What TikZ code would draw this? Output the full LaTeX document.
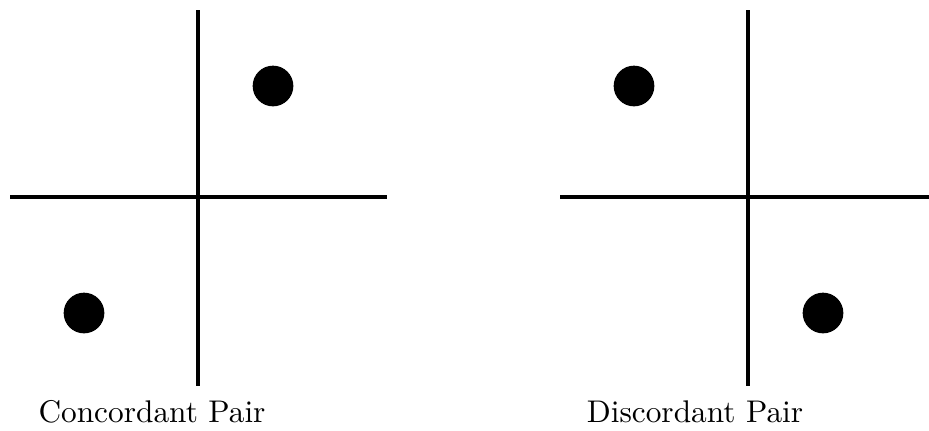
\documentclass[tikz,border=0pt]{standalone}
\usepackage{tikz}

\begin{document}
\begin{tikzpicture}[x=0.3415pt,y=-0.3415pt]
  \tikzset{
    axisline/.style={line width=1.6pt},
    pairdot/.style={circle,fill=black,inner sep=0pt,minimum size=13.9pt},
    pairlabel/.style={font=\fontsize{10.7}{13}\selectfont}
  }
  \useasboundingbox (0,0) rectangle (929,430);
  % concordant
  \draw[axisline] (198,10) -- (198,386);
  \draw[axisline] (10,197) -- (387,197);
  \node[pairdot] (cupper) at (273,86) {};
  \node[pairdot] (clower) at (84,313) {};
  \node[pairlabel] (clabel) at (152,412) {Concordant Pair};
  % discordant
  \draw[axisline] (748,10) -- (748,386);
  \draw[axisline] (560,197) -- (929,197);
  \node[pairdot] (dupper) at (634,86) {};
  \node[pairdot] (dlower) at (823,313) {};
  \node[pairlabel] (dlabel) at (695,412) {Discordant Pair};
\end{tikzpicture}
\end{document}
